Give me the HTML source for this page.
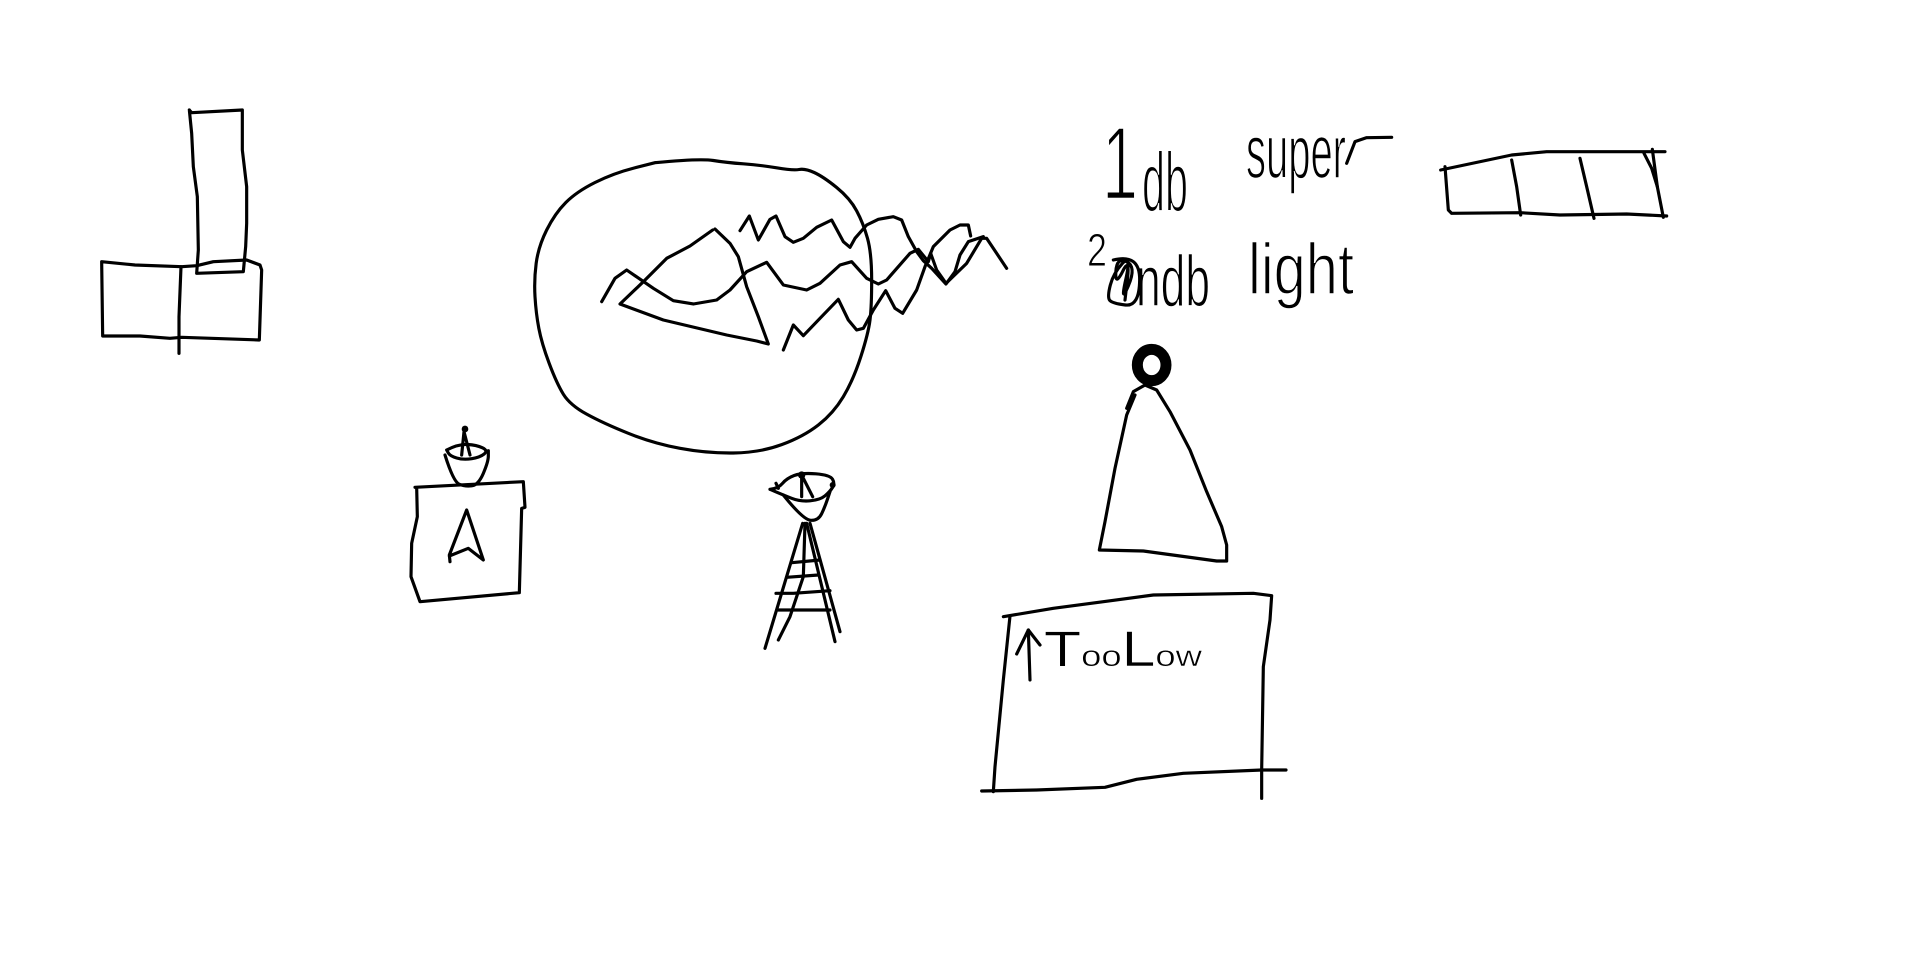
<!DOCTYPE html>
<html lang="en">
<head>
<meta charset="utf-8">
<title>Hand-drawn sketch</title>
<style>
html,body{margin:0;padding:0;width:1920px;height:954px;background:#fff;overflow:hidden}
svg{display:block}
.s{fill:none;stroke:#000;stroke-width:9.5;stroke-linejoin:round;stroke-linecap:round}
.t{font-family:"Liberation Sans",sans-serif;fill:#000;stroke:#fff;paint-order:fill stroke}
</style>
</head>
<body>
<svg width="1920" height="954" viewBox="0 0 1920 954">
<rect width="1920" height="954" fill="#fff"/>

<g transform="translate(80 90) scale(.33333)">
<polyline class="s" points="328,60 335,68 487,60 487,180 500,290 500,400 497,470 490,545 350,550 355,480 352,320 340,230 335,130 328,60"/>
<polyline class="s" points="65,515 165,525 305,530 350,527 400,515 500,510 540,525 545,540 538,750 305,742 270,745 180,738 68,738 65,515"/>
<polyline class="s" points="303,530 297,680 297,790"/>
</g>

<g transform="translate(520 140) scale(.33333)">
<path class="s smooth" data-points="405,68 540,55 620,68 720,75 820,92 855,85 910,110 990,175 1030,250 1055,340 1055,500 1045,580 1000,720 940,820 850,890 720,938 560,940 400,910 250,850 150,795 110,730 65,610 48,520 42,420 55,320 105,220 170,155 280,100 405,68"/>
<polyline class="s" points="578,270 510,318 440,355 365,430 300,492 430,540 620,585 710,603 745,612 715,530 680,440 655,350 630,310 585,267"/>
<polyline class="s" points="660,272 688,228 715,300 750,238 768,228 795,290 820,307 850,295 890,262 935,240 970,305 990,322 1005,295 1040,255 1075,238 1120,230 1145,240 1165,290 1190,335 1210,362 1235,385 1278,432 1305,395 1320,345 1345,305 1390,290"/>
<polyline class="s" points="245,485 285,415 320,390 400,445 460,482 520,492 590,480 630,450 680,395 740,367 790,435 860,450 900,430 960,375 995,365 1040,415 1075,432 1100,420 1170,340 1195,328 1225,365 1232,340 1250,390 1278,430 1340,370 1385,295 1400,295 1460,385"/>
<polyline class="s" points="790,630 820,555 850,587 900,535 955,478 985,540 1010,570 1030,565 1060,510 1097,452 1125,505 1148,520 1190,450 1215,380 1240,320 1290,270 1320,255 1345,255 1352,288"/>
</g>

<g>
<text class="t" x="1102" y="199" font-size="104" stroke-width="2.6" textLength="36" lengthAdjust="spacingAndGlyphs">1</text>
<text class="t" x="1142" y="211" font-size="84" stroke-width="2" textLength="46" lengthAdjust="spacingAndGlyphs">db</text>
<text class="t" x="1246" y="178" font-size="76" stroke-width="1.6" textLength="100" lengthAdjust="spacingAndGlyphs">super</text>
<text class="t" x="1087" y="266" font-size="46" textLength="20" lengthAdjust="spacingAndGlyphs">2</text>
<text class="t" x="1136" y="306" font-size="72" stroke-width="1.4" textLength="74" lengthAdjust="spacingAndGlyphs">ndb</text>
<text class="t" x="1248" y="294" font-size="72" stroke-width="1.6" textLength="106" lengthAdjust="spacingAndGlyphs">light</text>
</g>
<g transform="translate(1080 100) scale(.33333)">
<polyline class="s" points="800,190 825,125 860,113 935,112"/>
<path class="s smooth" data-points="100,480 180,460 178,620 95,610 82,590 100,520 155,460 120,615 170,500 110,470 105,560 150,470 135,600"/>
</g>

<g transform="translate(1420 130) scale(.33333)">
<polyline class="s" points="62,120 275,75 380,65 735,65"/>
<polyline class="s" points="75,110 85,240 95,250 300,248 420,255 620,252 740,258"/>
<polyline class="s" points="275,90 290,170 302,255"/>
<polyline class="s" points="480,85 500,170 522,265"/>
<polyline class="s" points="672,70 695,115 712,170"/>
<polyline class="s" points="697,58 712,170 730,262"/>
</g>

<g transform="translate(400 420) scale(.33333)">
<polyline class="s" points="45,202 370,185 375,262 365,265 358,518 60,545 33,470 35,370 52,290 50,202"/>
<path class="s smooth" data-points="140,90 175,72 230,75 265,92 240,112 190,120 150,108 140,90"/>
<path class="s smooth" data-points="135,105 160,185 195,200 235,195 265,125 265,92"/>
<polyline class="s" points="185,105 192,35 210,105"/>
<circle cx="195" cy="27" r="10" fill="#000"/>
<polyline class="s" points="150,425 148,405 200,270 250,420 205,385 148,408"/>
</g>

<g transform="translate(750 460) scale(.33333)">
<path class="s smooth" data-points="60,88 85,85 110,55 155,38 240,45 255,70 240,95 210,120 150,125 100,105 60,88"/>
<polyline class="s" points="78,70 85,85"/>
<path class="s smooth" data-points="100,105 160,180 205,182 225,140 240,95"/>
<polyline class="s" points="155,110 155,45 188,110"/>
<circle cx="155" cy="45" r="11" fill="#000"/>
<circle cx="248" cy="75" r="9" fill="#000"/>
<polyline class="s" points="158,190 45,565"/>
<polyline class="s" points="165,190 160,350 120,470 85,540"/>
<polyline class="s" points="170,190 255,545"/>
<polyline class="s" points="180,190 270,515"/>
<polyline class="s" points="125,308 210,300"/>
<polyline class="s" points="110,352 205,345"/>
<polyline class="s" points="78,400 130,400 240,392"/>
<polyline class="s" points="85,450 240,450"/>
</g>

<g transform="translate(1090 335) scale(.33333)">
<ellipse cx="185" cy="90" rx="43" ry="47" fill="none" stroke="#000" stroke-width="33"/>
<polyline class="s" points="110,220 130,170 165,150 200,165 240,230 300,345 350,470 395,575 410,630 410,678 380,678 160,648 28,645 45,560 75,400 110,240 135,180"/>
</g>

<g transform="translate(970 580) scale(.33333)">
<polyline class="s" points="100,110 250,85 400,65 550,45 850,40 905,47 900,120 880,260 875,570 875,655"/>
<polyline class="s" points="35,633 200,630 405,622 500,598 640,580 875,570 948,570"/>
<polyline class="s" points="120,108 100,300 75,560 70,635"/>
<polyline class="s" points="180,300 175,150 140,222"/>
<polyline class="s" points="175,150 210,195"/>
</g>
<text class="t" x="1044" y="666" font-size="50" stroke-width=".5" textLength="158" lengthAdjust="spacingAndGlyphs">T<tspan font-size="30">oo</tspan>L<tspan font-size="30">ow</tspan></text>
</svg>
<script>
var smoothPaths = document.querySelectorAll('path.smooth');
smoothPaths.forEach(function (path) {
  var pts = path.getAttribute('data-points').trim().split(/\s+/).map(function (p) {
    return p.split(',').map(Number);
  });
  var d = 'M' + pts[0][0] + ' ' + pts[0][1];
  for (var i = 1; i < pts.length - 1; i++) {
    var mx = (pts[i][0] + pts[i + 1][0]) / 2;
    var my = (pts[i][1] + pts[i + 1][1]) / 2;
    d += ' Q' + pts[i][0] + ' ' + pts[i][1] + ' ' + mx + ' ' + my;
  }
  var last = pts[pts.length - 1];
  d += ' L' + last[0] + ' ' + last[1];
  path.setAttribute('d', d);
});
</script>
</body>
</html>
